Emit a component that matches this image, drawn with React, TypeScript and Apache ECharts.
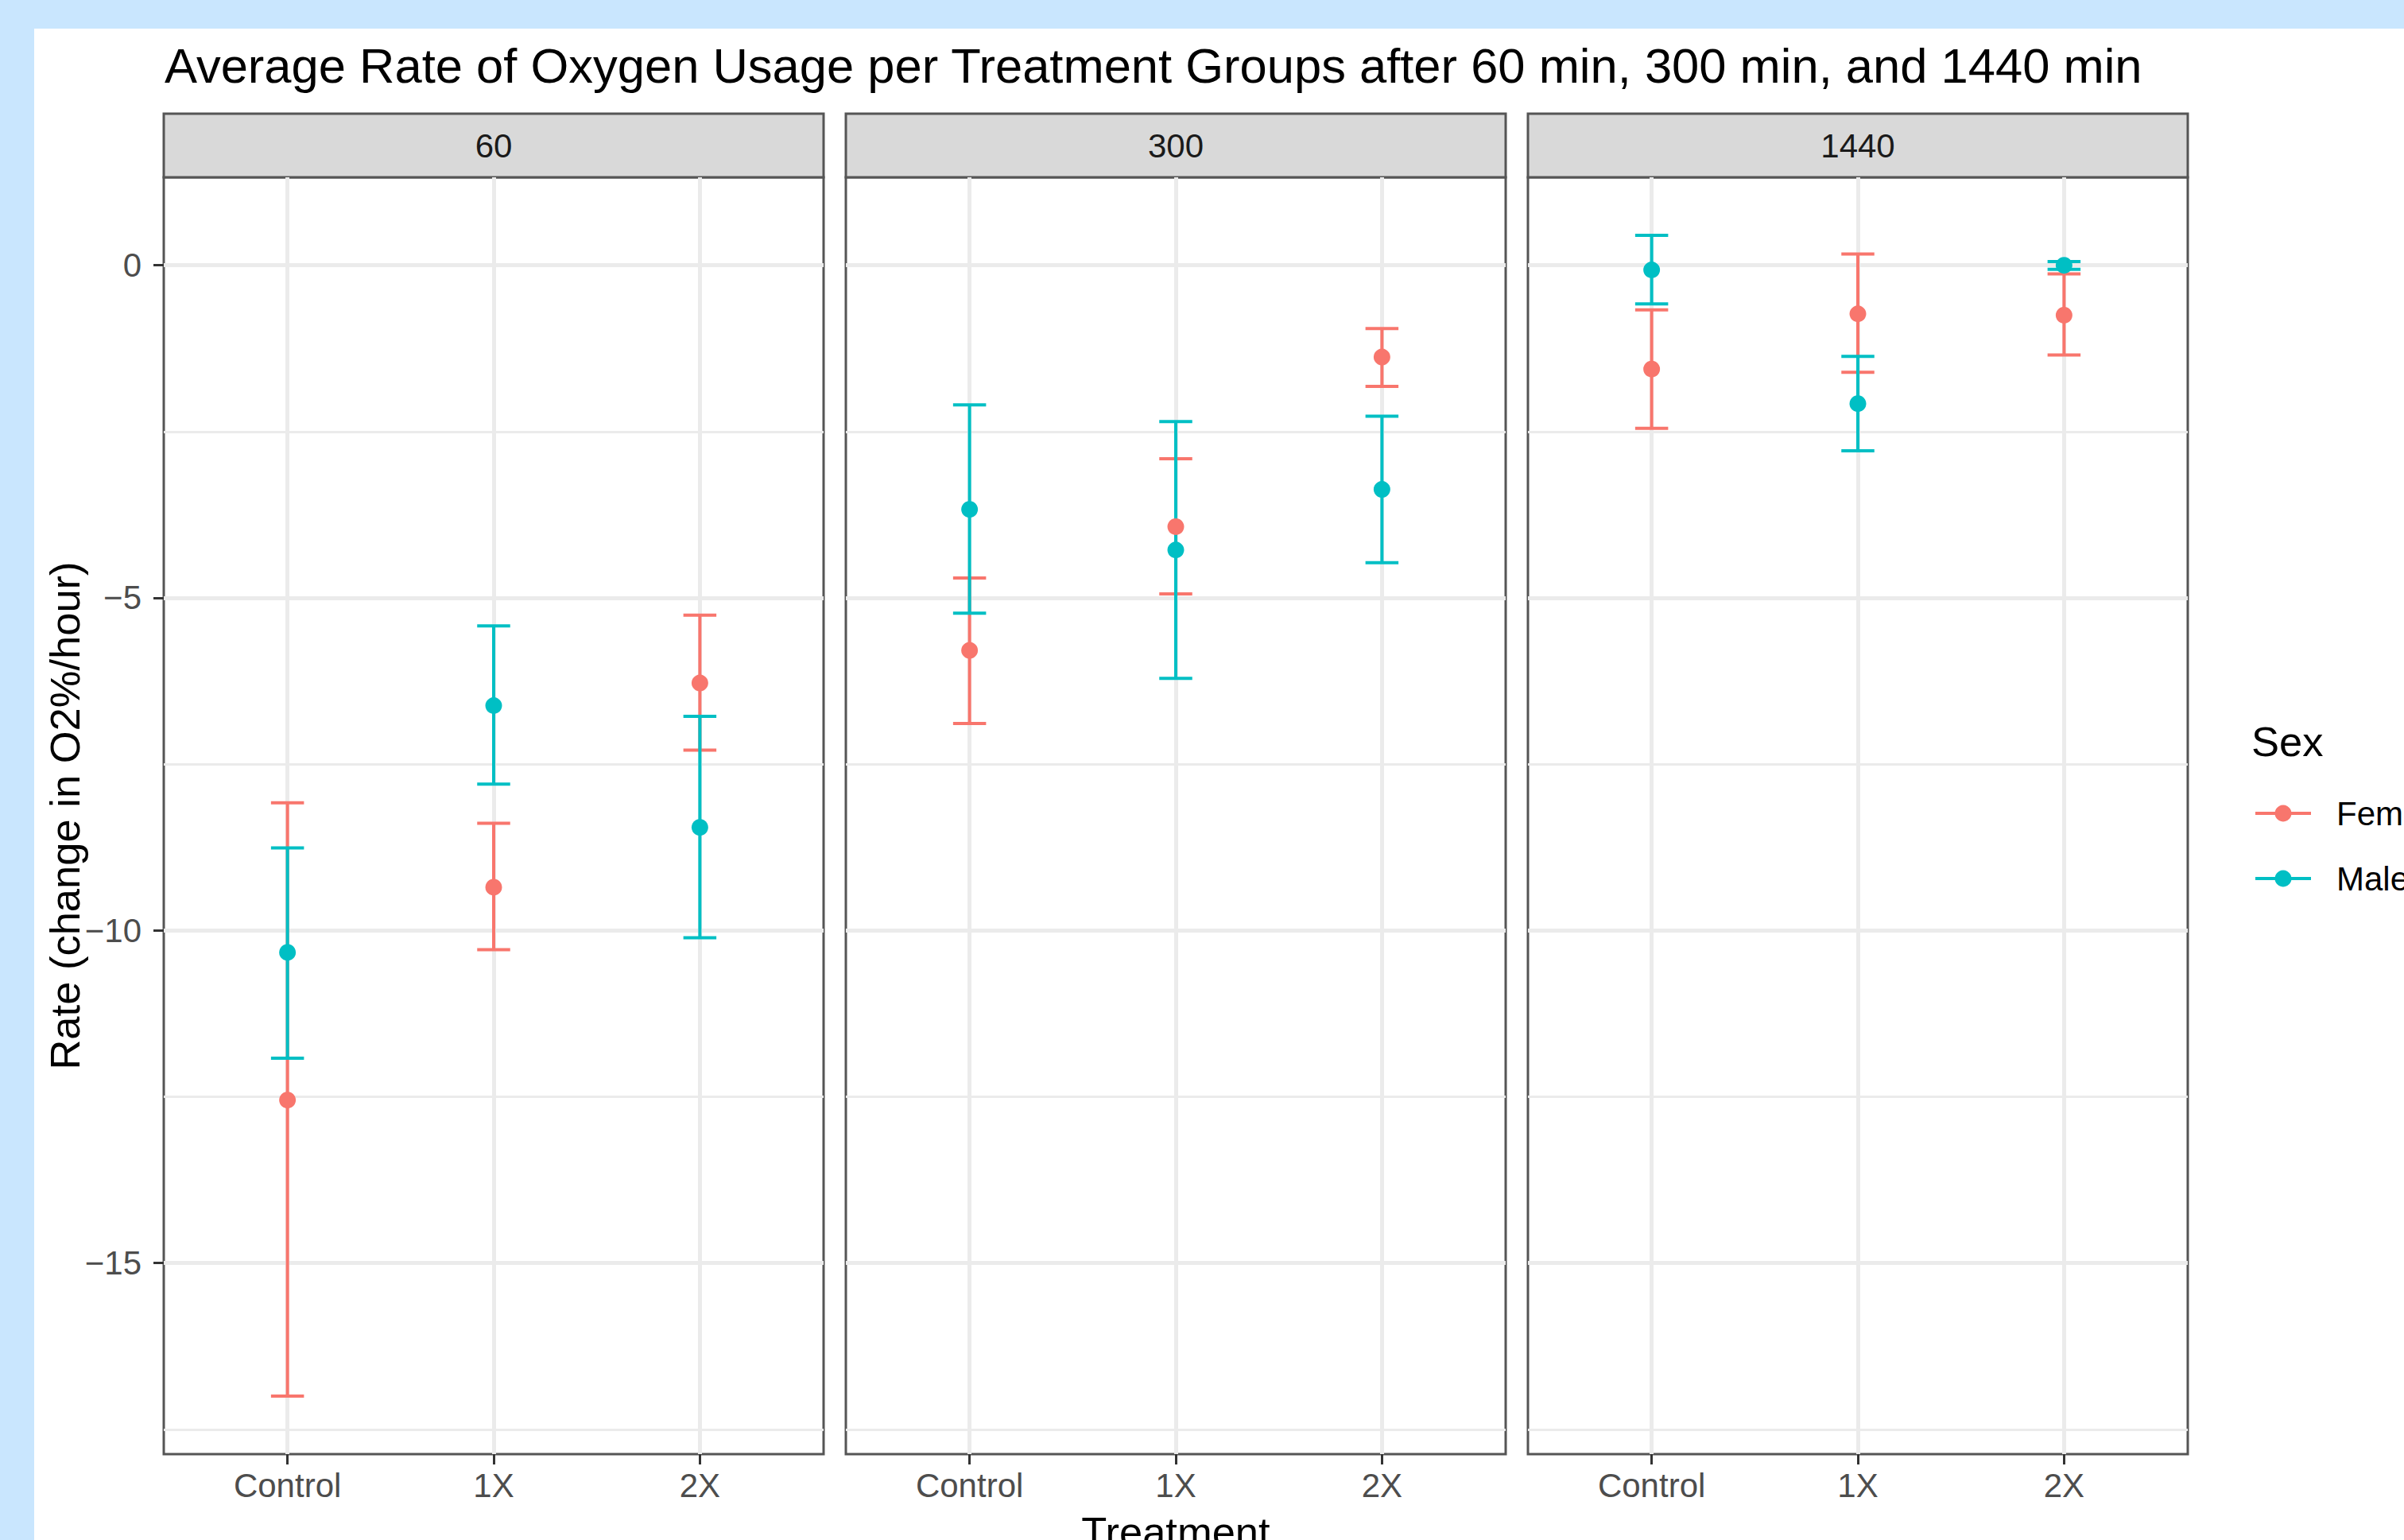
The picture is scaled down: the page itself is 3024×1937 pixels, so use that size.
import React, { useEffect, useRef } from 'react';
import * as echarts from 'echarts';

// ---------- data ----------
const panels = ['60', '300', '1440'];
const treatments = ['Control', '1X', '2X'];
const sexes = ['Female', 'Male'];
const sexColors = ['#F8766D', '#00BFC4'];

// rows = panel (60, 300, 1440), columns = treatment (Control, 1X, 2X)
const femaleMean = [
  [-12.55, -9.35, -6.28],
  [-5.79, -3.93, -1.38],
  [-1.56, -0.73, -0.75],
];
const femaleLow = [
  [-17.0, -10.29, -7.29],
  [-6.89, -4.94, -1.82],
  [-2.45, -1.61, -1.35],
];
const femaleHigh = [
  [-8.08, -8.39, -5.26],
  [-4.7, -2.91, -0.95],
  [-0.67, 0.17, -0.13],
];
const maleMean = [
  [-10.33, -6.62, -8.45],
  [-3.67, -4.28, -3.37],
  [-0.07, -2.08, 0.0],
];
const maleLow = [
  [-11.92, -7.8, -10.11],
  [-5.23, -6.21, -4.47],
  [-0.58, -2.79, -0.06],
];
const maleHigh = [
  [-8.76, -5.42, -6.78],
  [-2.1, -2.35, -2.27],
  [0.45, -1.37, 0.055],
];

const yMajorTicks = [-15, -10, -5, 0];
const yMinorTicks = [-17.5, -12.5, -7.5, -2.5];
const xTickValues = [1, 2, 3];

const titleText = 'Average Rate of Oxygen Usage per Treatment Groups after 60 min, 300 min, and 1440 min';
const yTitle = 'Rate (change in O2%/hour)';
const xTitle = 'Treatment';
const legendTitle = 'Sex';

// ---------- layout (page px) ----------
const OX = 43;
const OY = 36;
const PANEL_LEFT = [206, 1064, 1922];
const PANEL_W = 830;
const STRIP_TOP = 143;
const STRIP_H = 80;
const PANEL_TOP = 223;
const PANEL_H = 1606;
const FONT = '"Liberation Sans", Arial, Helvetica, sans-serif';
const BORDER = '#555555';
const GRID_COLOR = '#ebebeb';
const CAP_W = 0.16;

const means = [femaleMean, maleMean];
const lows = [femaleLow, maleLow];
const highs = [femaleHigh, maleHigh];

function yRange() {
  const all: number[] = [];
  [femaleLow, femaleHigh, maleLow, maleHigh].forEach((m) => m.forEach((r) => r.forEach((v) => all.push(v))));
  const lo = Math.min(...all);
  const hi = Math.max(...all);
  const pad = (hi - lo) * 0.05;
  return [lo - pad, hi + pad];
}

const fmt = (v: number) => (v < 0 ? '\u2212' + Math.abs(v) : String(v));

export default function App() {
  const ref = useRef<HTMLDivElement>(null);

  useEffect(() => {
    if (!ref.current) return;
    const chart = echarts.init(ref.current, null, { renderer: 'svg' });
    const [yMin, yMax] = yRange();

    const grid: any[] = [];
    const xAxis: any[] = [];
    const yAxis: any[] = [];
    const series: any[] = [];
    const graphic: any[] = [];

    panels.forEach((p, i) => {
      grid.push({
        left: PANEL_LEFT[i] - OX,
        top: PANEL_TOP - OY,
        width: PANEL_W,
        height: PANEL_H,
        show: true,
        borderColor: BORDER,
        borderWidth: 3,
        backgroundColor: 'transparent',
        containLabel: false,
        outerBoundsMode: 'none',
      });
      xAxis.push({
        type: 'value',
        gridIndex: i,
        position: 'bottom',
        min: 0.4,
        max: 3.6,
        axisLine: { show: false, onZero: false },
        axisTick: {
          show: true,
          customValues: xTickValues,
          length: 13,
          lineStyle: { color: '#333333', width: 3 },
        },
        axisLabel: {
          show: true,
          customValues: xTickValues,
          formatter: (v: number) => treatments[Math.round(v) - 1] ?? '',
          margin: 18,
          fontSize: 42,
          fontFamily: FONT,
          color: '#4d4d4d',
        },
        splitLine: { show: true, lineStyle: { color: GRID_COLOR, width: 5 } },
      });
      // major y axis
      yAxis.push({
        type: 'value',
        gridIndex: i,
        position: 'left',
        min: yMin,
        max: yMax,
        axisLine: { show: false, onZero: false },
        axisTick: {
          show: true,
          customValues: yMajorTicks,
          length: i === 0 ? 13 : 0,
          lineStyle: { color: '#333333', width: 3, opacity: i === 0 ? 1 : 0 },
        },
        axisLabel: {
          show: i === 0,
          customValues: yMajorTicks,
          formatter: (v: number) => fmt(v),
          margin: 28,
          fontSize: 42,
          fontFamily: FONT,
          color: '#4d4d4d',
        },
        splitLine: { show: true, lineStyle: { color: GRID_COLOR, width: 5 } },
      });
      // minor y axis (grid lines only)
      yAxis.push({
        type: 'value',
        gridIndex: i,
        position: 'left',
        min: yMin,
        max: yMax,
        axisLine: { show: false, onZero: false },
        axisTick: { show: true, customValues: yMinorTicks, length: 0, lineStyle: { opacity: 0 } },
        axisLabel: { show: false, customValues: yMinorTicks },
        splitLine: { show: true, lineStyle: { color: GRID_COLOR, width: 3 } },
      });

      sexes.forEach((s, k) => {
        const color = sexColors[k];
        const barData = treatments.map((_, t) => [t + 1, lows[k][i][t], highs[k][i][t]]);
        const ptData = treatments.map((_, t) => [t + 1, means[k][i][t]]);
        series.push({
          type: 'custom',
          name: s,
          xAxisIndex: i,
          yAxisIndex: 2 * i,
          data: barData,
          encode: { x: 0, y: [1, 2] },
          z: 3,
          renderItem: (params: any, api: any) => {
            const x = api.value(0);
            const lo = api.value(1);
            const hi = api.value(2);
            const pLo = api.coord([x, lo]);
            const pHi = api.coord([x, hi]);
            const half = api.size([CAP_W, 0])[0] / 2;
            const st = { stroke: color, lineWidth: 4 };
            return {
              type: 'group',
              children: [
                { type: 'line', shape: { x1: pLo[0], y1: pLo[1], x2: pHi[0], y2: pHi[1] }, style: st },
                { type: 'line', shape: { x1: pLo[0] - half, y1: pLo[1], x2: pLo[0] + half, y2: pLo[1] }, style: st },
                { type: 'line', shape: { x1: pHi[0] - half, y1: pHi[1], x2: pHi[0] + half, y2: pHi[1] }, style: st },
              ],
            };
          },
        });
        series.push({
          type: 'scatter',
          name: s,
          xAxisIndex: i,
          yAxisIndex: 2 * i,
          data: ptData,
          symbol: 'circle',
          symbolSize: 21,
          z: 3,
          itemStyle: { color, opacity: 1 },
        });
      });

      // strip
      graphic.push({
        type: 'rect',
        shape: { x: PANEL_LEFT[i] - OX, y: STRIP_TOP - OY, width: PANEL_W, height: STRIP_H },
        style: { fill: '#d9d9d9', stroke: BORDER, lineWidth: 3 },
      });
      graphic.push({
        type: 'text',
        x: PANEL_LEFT[i] - OX + PANEL_W / 2,
        y: STRIP_TOP - OY + STRIP_H / 2,
        style: {
          text: p,
          fontSize: 42,
          fontFamily: FONT,
          fill: '#1a1a1a',
          align: 'center',
          verticalAlign: 'middle',
        },
      });
    });

    // title & axis titles
    graphic.push({
      type: 'text',
      x: 207 - OX,
      y: 82 - OY,
      style: { text: titleText, fontSize: 61.5, fontFamily: FONT, fill: '#000', align: 'left', verticalAlign: 'middle' },
    });
    graphic.push({
      type: 'text',
      x: 81 - OX,
      y: (PANEL_TOP + PANEL_H / 2) - OY,
      rotation: Math.PI / 2,
      style: { text: yTitle, fontSize: 52.5, fontFamily: FONT, fill: '#000', align: 'center', verticalAlign: 'middle' },
    });
    graphic.push({
      type: 'text',
      x: (PANEL_LEFT[0] + PANEL_LEFT[2] + PANEL_W) / 2 - OX,
      y: 1926 - OY,
      style: { text: xTitle, fontSize: 52.5, fontFamily: FONT, fill: '#000', align: 'center', verticalAlign: 'middle' },
    });

    // legend
    graphic.push({
      type: 'text',
      x: 2832 - OX,
      y: 932 - OY,
      style: { text: legendTitle, fontSize: 52.5, fontFamily: FONT, fill: '#000', align: 'left', verticalAlign: 'middle' },
    });
    const keyY = [1023, 1105];
    sexes.forEach((s, k) => {
      graphic.push({
        type: 'line',
        shape: { x1: 2837 - OX, y1: keyY[k] - OY, x2: 2907 - OX, y2: keyY[k] - OY },
        style: { stroke: sexColors[k], lineWidth: 4 },
      });
      graphic.push({
        type: 'circle',
        shape: { cx: 2872 - OX, cy: keyY[k] - OY, r: 10.5 },
        style: { fill: sexColors[k] },
      });
      graphic.push({
        type: 'text',
        x: 2939 - OX,
        y: keyY[k] - OY,
        style: { text: s, fontSize: 42, fontFamily: FONT, fill: '#000', align: 'left', verticalAlign: 'middle' },
      });
    });

    chart.setOption({
      animation: false,
      backgroundColor: '#ffffff',
      grid,
      xAxis,
      yAxis,
      series,
      graphic,
    });
    return () => chart.dispose();
  }, []);

  return (
    <div
      style={{
        position: 'fixed',
        left: 0,
        top: 0,
        width: 3024,
        height: 1937,
        background: '#c9e6fe',
        overflow: 'hidden',
      }}
    >
      <div
        ref={ref}
        style={{ position: 'absolute', left: OX, top: OY, width: 3024 - OX, height: 1937 - OY, background: '#fff' }}
      />
    </div>
  );
}
